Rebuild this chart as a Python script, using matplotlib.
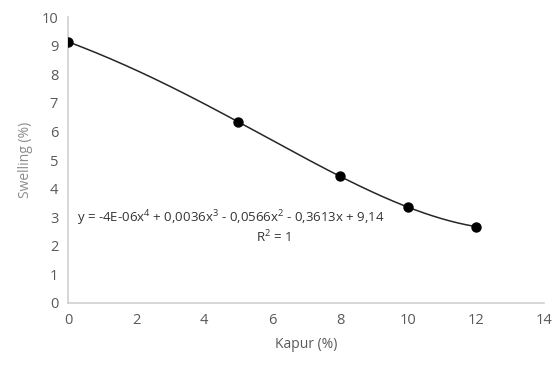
import numpy as np
import matplotlib.pyplot as plt

# data
kapur = [0, 5, 8, 10, 12]
swelling = [9.14, 6.34, 4.43, 3.35, 2.67]
x_ticks = [0, 2, 4, 6, 8, 10, 12, 14]
y_ticks = [0, 1, 2, 3, 4, 5, 6, 7, 8, 9, 10]
eq_text = "y = -4E-06x$^4$ + 0,0036x$^3$ - 0,0566x$^2$ - 0,3613x + 9,14"
r2_text = "R$^2$ = 1"

plt.rcParams['font.family'] = ['Open Sans', 'DejaVu Sans']
plt.rcParams['mathtext.default'] = 'regular'

fig = plt.figure(figsize=(5.57, 3.65), dpi=100)
ax = fig.add_axes([0.122, 0.17, 0.855, 0.783])

# 4th order polynomial trendline through the points
coef = np.polyfit(kapur, swelling, 4)
xs = np.linspace(min(kapur), max(kapur), 200)
ax.plot(xs, np.polyval(coef, xs), color='#262626', lw=1.1, zorder=2)
ax.scatter(kapur, swelling, s=42, color='black', zorder=3)

ax.text(4.8, 2.98, eq_text, ha='center', va='center', fontsize=9.5, color='#333333')
ax.text(6.05, 2.3, r2_text, ha='center', va='center', fontsize=9.5, color='#333333')

ax.set_xlim(0, 14)
ax.set_ylim(0, 10)
ax.set_xticks(x_ticks)
ax.set_yticks(y_ticks)
ax.tick_params(length=0, labelsize=10.5, colors='#595959', pad=7)
for s in ['top', 'right']:
    ax.spines[s].set_visible(False)
for s in ['left', 'bottom']:
    ax.spines[s].set_color('#d0d0d0')
    ax.spines[s].set_linewidth(1.2)

ax.set_xlabel("Kapur (%)", fontsize=10, color='#595959', labelpad=7)
ax.set_ylabel("Swelling (%)", fontsize=10, color='#8c8c8c', labelpad=6)

fig.savefig("out.png", dpi=100)
